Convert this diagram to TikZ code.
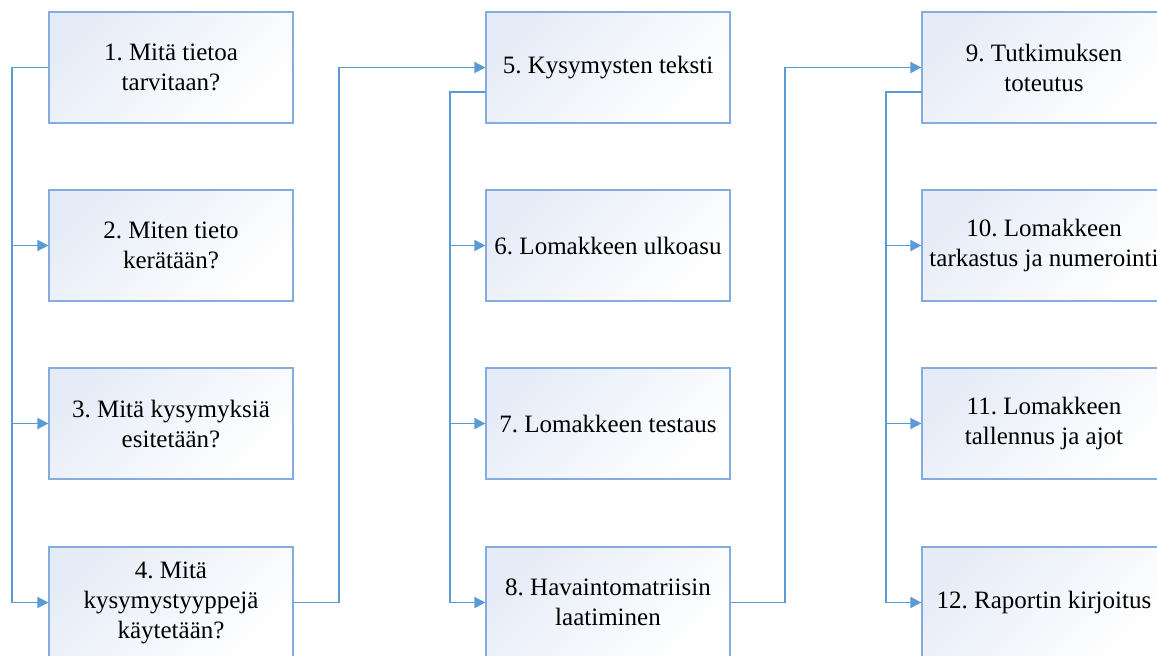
\documentclass[tikz,border=0pt]{standalone}
\usepackage{fontspec}
\setmainfont{Liberation Serif}
\usetikzlibrary{arrows.meta}
\definecolor{linkblue}{RGB}{91,155,213}
\definecolor{boxline}{RGB}{132,172,220}
\definecolor{boxfill}{RGB}{230,236,247}
\frenchspacing
\begin{document}
\begin{tikzpicture}[x=0.5pt, y=-0.5pt, >={Triangle[length=5.5pt,width=5.5pt]},
		box/.style={draw=boxline, line width=0.6pt, top color=boxfill, bottom color=white, shading angle=45,
			minimum width=122pt, minimum height=55.5pt, inner sep=0pt, align=center,
			font=\fontsize{12.5}{15}\selectfont},
		link/.style={draw=linkblue, line width=0.9pt}]
	\useasboundingbox (0,0) rectangle (1157,655);
	
	% --- 1. laatikot ---
	\node[box] (b1) at (171,67.5)  {1. Mitä tietoa\\tarvitaan?};
	\node[box] (b2) at (171,245.5) {2. Miten tieto\\kerätään?};
	\node[box] (b3) at (171,423.5) {3. Mitä kysymyksiä\\esitetään?};
	\node[box] (b4) at (171,602.5) {4. Mitä\\kysymystyyppejä\\käytetään?};
	
	\node[box] (b5) at (608,67.5)  {5. Kysymysten teksti};
	\node[box] (b6) at (608,245.5) {6. Lomakkeen ulkoasu};
	\node[box] (b7) at (608,423.5) {7. Lomakkeen testaus};
	\node[box] (b8) at (608,602.5) {8. Havaintomatriisin\\laatiminen};
	
	\node[box] (b9)  at (1044,67.5)  {9. Tutkimuksen\\toteutus};
	\node[box] (b10) at (1044,245.5) {10. Lomakkeen\\tarkastus ja numerointi};
	\node[box] (b11) at (1044,423.5) {11. Lomakkeen\\tallennus ja ajot};
	\node[box] (b12) at (1044,602.5) {12. Raportin kirjoitus};
	
	% --- 2. apupisteet ---
	\coordinate (t1) at (12,67.5);
	\coordinate (k1) at (339,67.5);
	\coordinate (s5) at (486,92);
	\coordinate (t5) at (450,92);
	\coordinate (k2) at (785,67.5);
	\coordinate (s9) at (922,92);
	\coordinate (t9) at (886,92);
	
	% --- 3. yhteydet ---
	% sarake 1
	\draw[link] (b1.west) -- (t1) |- (b4.west);
	\draw[link, ->] (t1) |- (b2.west);
	\draw[link, ->] (t1) |- (b3.west);
	\draw[link, ->] (t1) |- (b4.west);
	\draw[link, ->] (b4.east) -| (k1) -- (b5.west);
	
	% sarake 2
	\draw[link] (s5) -- (t5) |- (b8.west);
	\draw[link, ->] (t5) |- (b6.west);
	\draw[link, ->] (t5) |- (b7.west);
	\draw[link, ->] (t5) |- (b8.west);
	\draw[link, ->] (b8.east) -| (k2) -- (b9.west);
	
	% sarake 3
	\draw[link] (s9) -- (t9) |- (b12.west);
	\draw[link, ->] (t9) |- (b10.west);
	\draw[link, ->] (t9) |- (b11.west);
	\draw[link, ->] (t9) |- (b12.west);
	
\end{tikzpicture}
\end{document}
